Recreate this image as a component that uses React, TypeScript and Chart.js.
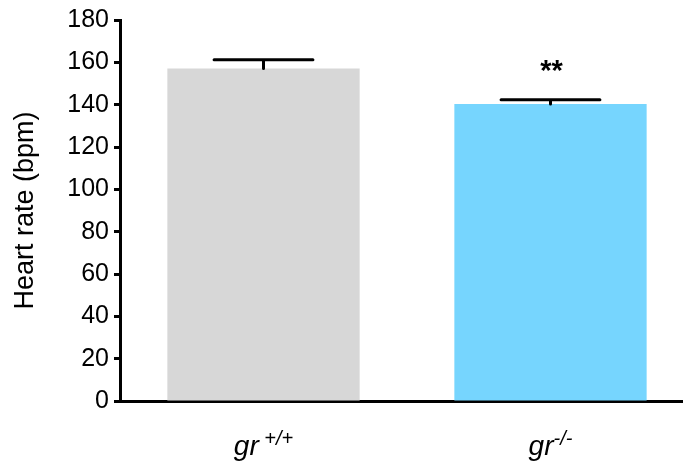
import React, { useEffect, useRef } from 'react';
import { Chart, registerables } from 'chart.js';

Chart.register(...registerables);

// ---- data ----
const categories = ['gr +/+', 'gr -/-'];
const labelBase = ['gr', 'gr'];
const labelSup = ['+/+', '-/-'];
const labelGap = [' ', ''];
const means = [157.1, 140.3];
const sems = [4.1, 2.0];
const significance = ['', '**'];
const barColors = ['#d7d7d7', '#76d5fe'];
const yMin = 0;
const yMax = 180;
const yStep = 20;
const yTitle = 'Heart rate (bpm)';

const FONT = 'Arial, "Liberation Sans", Helvetica, sans-serif';

const overlayPlugin = {
  id: 'overlay',
  afterDatasetsDraw(chart: any) {
    const ctx = chart.ctx;
    const meta = chart.getDatasetMeta(0);
    const ys = chart.scales.y;
    ctx.save();
    ctx.strokeStyle = '#000';
    ctx.fillStyle = '#000';
    ctx.lineWidth = 3;
    ctx.lineCap = 'round';
    meta.data.forEach((bar: any, i: number) => {
      const cx = bar.x;
      const capHalf = bar.width * 0.257;
      const base = ys.getPixelForValue(means[i]);
      const top = ys.getPixelForValue(means[i] + sems[i]);
      ctx.beginPath();
      ctx.moveTo(cx, base);
      ctx.lineTo(cx, top);
      ctx.moveTo(cx - capHalf, top);
      ctx.lineTo(cx + capHalf, top);
      ctx.stroke();
      if (significance[i]) {
        ctx.font = `bold 29px ${FONT}`;
        ctx.textAlign = 'center';
        ctx.textBaseline = 'alphabetic';
        ctx.fillText(significance[i], cx + 1, top - 20);
      }
      // category labels with superscripts
      const mainFont = `italic 28px ${FONT}`;
      const supFont = `italic 20px ${FONT}`;
      ctx.textAlign = 'left';
      ctx.textBaseline = 'alphabetic';
      ctx.font = mainFont;
      const wMain = ctx.measureText(labelBase[i]).width;
      ctx.font = supFont;
      const wGap = ctx.measureText(labelGap[i]).width;
      const wSup = ctx.measureText(labelSup[i]).width;
      const total = wMain + wGap + wSup;
      const x0 = cx - total / 2;
      const baseline = chart.chartArea.bottom + 54;
      ctx.font = mainFont;
      ctx.fillText(labelBase[i], x0, baseline);
      ctx.font = supFont;
      ctx.fillText(labelSup[i], x0 + wMain + wGap, baseline - 10);
    });
    ctx.restore();
  },
};

export default function App() {
  const ref = useRef<HTMLCanvasElement>(null);
  useEffect(() => {
    if (!ref.current) return;
    const chart = new Chart(ref.current, {
      type: 'bar',
      data: {
        labels: categories,
        datasets: [
          {
            data: means,
            backgroundColor: barColors,
            borderWidth: 0,
            categoryPercentage: 1,
            barPercentage: 0.67,
          },
        ],
      },
      options: {
        animation: false,
        responsive: false,
        maintainAspectRatio: false,
        layout: { padding: { top: 19, left: 0, right: 0, bottom: 0 } },
        plugins: {
          legend: { display: false },
          tooltip: { enabled: false },
        },
        scales: {
          x: {
            afterFit: (s: any) => {
              s.height = 72;
            },
            ticks: { display: false },
            grid: { display: false, drawTicks: false },
            border: { display: true, color: '#000', width: 3 },
          },
          y: {
            min: yMin,
            max: yMax,
            afterFit: (s: any) => {
              s.width = 120;
            },
            ticks: {
              stepSize: yStep,
              color: '#000',
              padding: 5,
              font: { family: FONT, size: 25 },
            },
            grid: {
              display: true,
              drawOnChartArea: false,
              drawTicks: true,
              tickLength: 6,
              tickWidth: 3,
              tickColor: '#000',
            },
            border: { display: true, color: '#000', width: 3 },
            title: {
              display: true,
              text: yTitle,
              color: '#000',
              font: { family: FONT, size: 27 },
              padding: { top: 9, bottom: 0 },
            },
          },
        },
      },
      plugins: [overlayPlugin],
    });
    return () => chart.destroy();
  }, []);
  return (
    <div
      style={{
        position: 'fixed',
        left: 0,
        top: 0,
        width: 683,
        height: 473,
        overflow: 'hidden',
        background: '#fff',
      }}
    >
      <canvas ref={ref} width={694} height={473} style={{ display: 'block' }} />
    </div>
  );
}
